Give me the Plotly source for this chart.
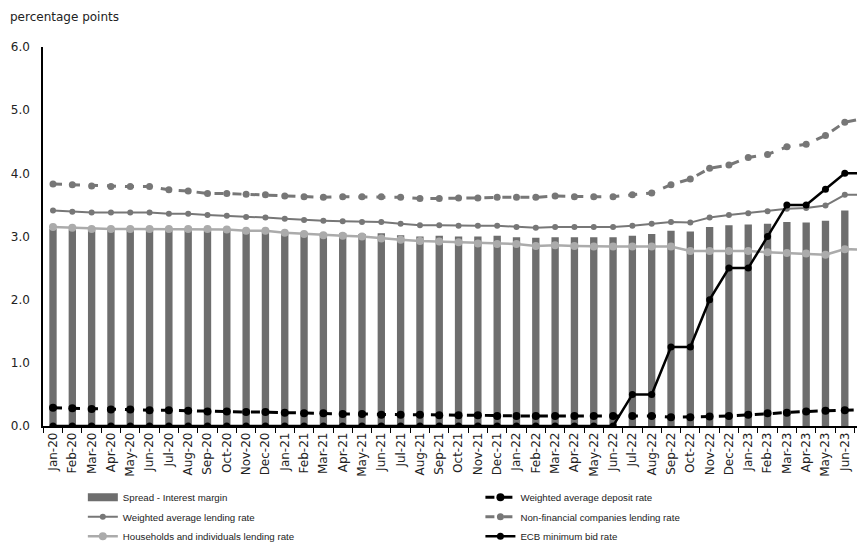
import plotly.graph_objects as go

# Monthly categories Jan-20 .. Jul-23
months = [
    "Jan-20", "Feb-20", "Mar-20", "Apr-20", "May-20", "Jun-20", "Jul-20", "Aug-20", "Sep-20", "Oct-20", "Nov-20", "Dec-20",
    "Jan-21", "Feb-21", "Mar-21", "Apr-21", "May-21", "Jun-21", "Jul-21", "Aug-21", "Sep-21", "Oct-21", "Nov-21", "Dec-21",
    "Jan-22", "Feb-22", "Mar-22", "Apr-22", "May-22", "Jun-22", "Jul-22", "Aug-22", "Sep-22", "Oct-22", "Nov-22", "Dec-22",
    "Jan-23", "Feb-23", "Mar-23", "Apr-23", "May-23", "Jun-23", "Jul-23",
]

spread = [
    3.12, 3.11, 3.11, 3.12, 3.12, 3.13, 3.11, 3.12, 3.11, 3.10, 3.09, 3.08,
    3.07, 3.06, 3.05, 3.05, 3.04, 3.05, 3.02, 3.00, 3.01, 3.00, 3.00, 3.01,
    2.99, 2.98, 2.99, 2.99, 2.99, 2.99, 3.01, 3.04, 3.09, 3.08, 3.15, 3.18,
    3.19, 3.20, 3.23, 3.22, 3.25, 3.41, 3.40,
]

deposit_rate = [
    0.29, 0.28, 0.27, 0.26, 0.26, 0.25, 0.25, 0.24, 0.23, 0.23, 0.22, 0.22,
    0.21, 0.20, 0.20, 0.19, 0.19, 0.18, 0.18, 0.18, 0.17, 0.17, 0.17, 0.16,
    0.16, 0.16, 0.16, 0.16, 0.16, 0.16, 0.16, 0.16, 0.14, 0.14, 0.15, 0.16,
    0.18, 0.20, 0.21, 0.23, 0.24, 0.25, 0.26,
]

lending_rate = [
    3.41, 3.39, 3.38, 3.38, 3.38, 3.38, 3.36, 3.36, 3.34, 3.33, 3.31, 3.30,
    3.28, 3.26, 3.25, 3.24, 3.23, 3.23, 3.20, 3.18, 3.18, 3.17, 3.17, 3.17,
    3.15, 3.14, 3.15, 3.15, 3.15, 3.15, 3.17, 3.20, 3.23, 3.22, 3.30, 3.34,
    3.37, 3.40, 3.44, 3.45, 3.49, 3.66, 3.66,
]

nfc_rate = [
    3.83, 3.82, 3.80, 3.79, 3.79, 3.79, 3.74, 3.72, 3.68, 3.68, 3.67, 3.66,
    3.64, 3.63, 3.62, 3.63, 3.63, 3.63, 3.62, 3.60, 3.60, 3.61, 3.61, 3.62,
    3.62, 3.62, 3.64, 3.63, 3.63, 3.63, 3.66, 3.69, 3.82, 3.91, 4.08, 4.13,
    4.25, 4.30, 4.42, 4.46, 4.60, 4.81, 4.87,
]

households_rate = [
    3.15, 3.14, 3.12, 3.12, 3.12, 3.12, 3.12, 3.12, 3.12, 3.11, 3.09, 3.09,
    3.06, 3.04, 3.02, 3.01, 3.00, 2.97, 2.95, 2.93, 2.92, 2.91, 2.89, 2.88,
    2.88, 2.85, 2.86, 2.85, 2.84, 2.84, 2.84, 2.84, 2.84, 2.77, 2.77, 2.77,
    2.77, 2.75, 2.74, 2.73, 2.71, 2.80, 2.79,
]

ecb_rate = [
    0, 0, 0, 0, 0, 0, 0, 0, 0, 0, 0, 0,
    0, 0, 0, 0, 0, 0, 0, 0, 0, 0, 0, 0,
    0, 0, 0, 0, 0, 0, 0.5, 0.5, 1.25, 1.25, 2.0, 2.5,
    2.5, 3.0, 3.5, 3.5, 3.75, 4.0, 4.0,
]

y_ticks = [0, 1, 2, 3, 4, 5, 6]

FONT = "DejaVu Sans, sans-serif"
LEG_FONT = "Liberation Sans, Arial, sans-serif"
BAR_COLOR = "#6e6e6e"

fig = go.Figure()

fig.add_trace(go.Bar(
    x=months, y=spread, name="Spread - Interest margin",
    marker=dict(color=BAR_COLOR, line=dict(width=0)),
    showlegend=False,
))
# legend entry for the bars: a wide flat swatch instead of plotly's square
fig.add_trace(go.Scatter(
    x=[None], y=[None], name="Spread - Interest margin",
    mode="lines", line=dict(color=BAR_COLOR, width=8),
    legend="legend", legendgroup="a",
))
fig.add_trace(go.Scatter(
    x=months, y=deposit_rate, name="Weighted average deposit rate",
    mode="lines+markers",
    line=dict(color="black", width=3, dash="dash"),
    marker=dict(color="black", size=8),
    legend="legend2", legendgroup="b",
))
fig.add_trace(go.Scatter(
    x=months, y=lending_rate, name="Weighted average lending rate",
    mode="lines+markers",
    line=dict(color="#777777", width=2),
    marker=dict(color="#777777", size=6),
    legend="legend", legendgroup="c",
))
fig.add_trace(go.Scatter(
    x=months, y=nfc_rate, name="Non-financial companies lending rate",
    mode="lines+markers",
    line=dict(color="#777777", width=3, dash="dash"),
    marker=dict(color="#777777", size=7),
    legend="legend2", legendgroup="d",
))
fig.add_trace(go.Scatter(
    x=months, y=households_rate, name="Households and individuals lending rate",
    mode="lines+markers",
    line=dict(color="#ababab", width=2.5),
    marker=dict(color="#ababab", size=8),
    legend="legend", legendgroup="e",
))
fig.add_trace(go.Scatter(
    x=months, y=ecb_rate, name="ECB minimum bid rate",
    mode="lines+markers",
    line=dict(color="black", width=2.5),
    marker=dict(color="black", size=7),
    legend="legend2", legendgroup="f",
))

# the page puts the plot 8px in from the top-left corner, margins allow for it
legend_common = dict(
    orientation="v",
    yanchor="top",
    y=-0.15,
    xanchor="left",
    traceorder="grouped",
    tracegroupgap=0.5,
    bgcolor="rgba(0,0,0,0)",
    font=dict(family=LEG_FONT, size=9.7, color="#222222"),
)

fig.update_layout(
    width=865,
    height=556,
    margin=dict(l=35, r=0, t=39, b=138, autoexpand=False),
    plot_bgcolor="white",
    paper_bgcolor="white",
    font=dict(family=FONT, color="#222222", size=11),
    bargap=0.62,
    showlegend=True,
    legend=dict(x=0.048, **legend_common),
    legend2=dict(x=0.527, **legend_common),
    annotations=[dict(
        text="percentage points", x=0, y=1, xref="paper", yref="paper",
        xshift=-35, yshift=30, showarrow=False, xanchor="left", yanchor="middle",
        font=dict(family=FONT, size=12, color="#222222"),
    )],
)

fig.update_xaxes(
    type="category",
    range=[-0.518, 42.46],
    automargin=False,
    showgrid=False,
    showline=True, linecolor="black", linewidth=1.5,
    ticks="outside", tickson="boundaries", ticklen=5, tickcolor="black",
    tickangle=-90,
    tickfont=dict(family=FONT, size=12, color="#222222"),
)
fig.update_yaxes(
    range=[0, 6],
    tickvals=y_ticks,
    tickformat=".1f",
    automargin=False,
    showgrid=False, zeroline=False,
    showline=True, linecolor="black", linewidth=1.5,
    ticks="", ticklabelstandoff=9,
    tickfont=dict(family=FONT, size=12, color="#222222"),
)

fig.write_html("out.html")
